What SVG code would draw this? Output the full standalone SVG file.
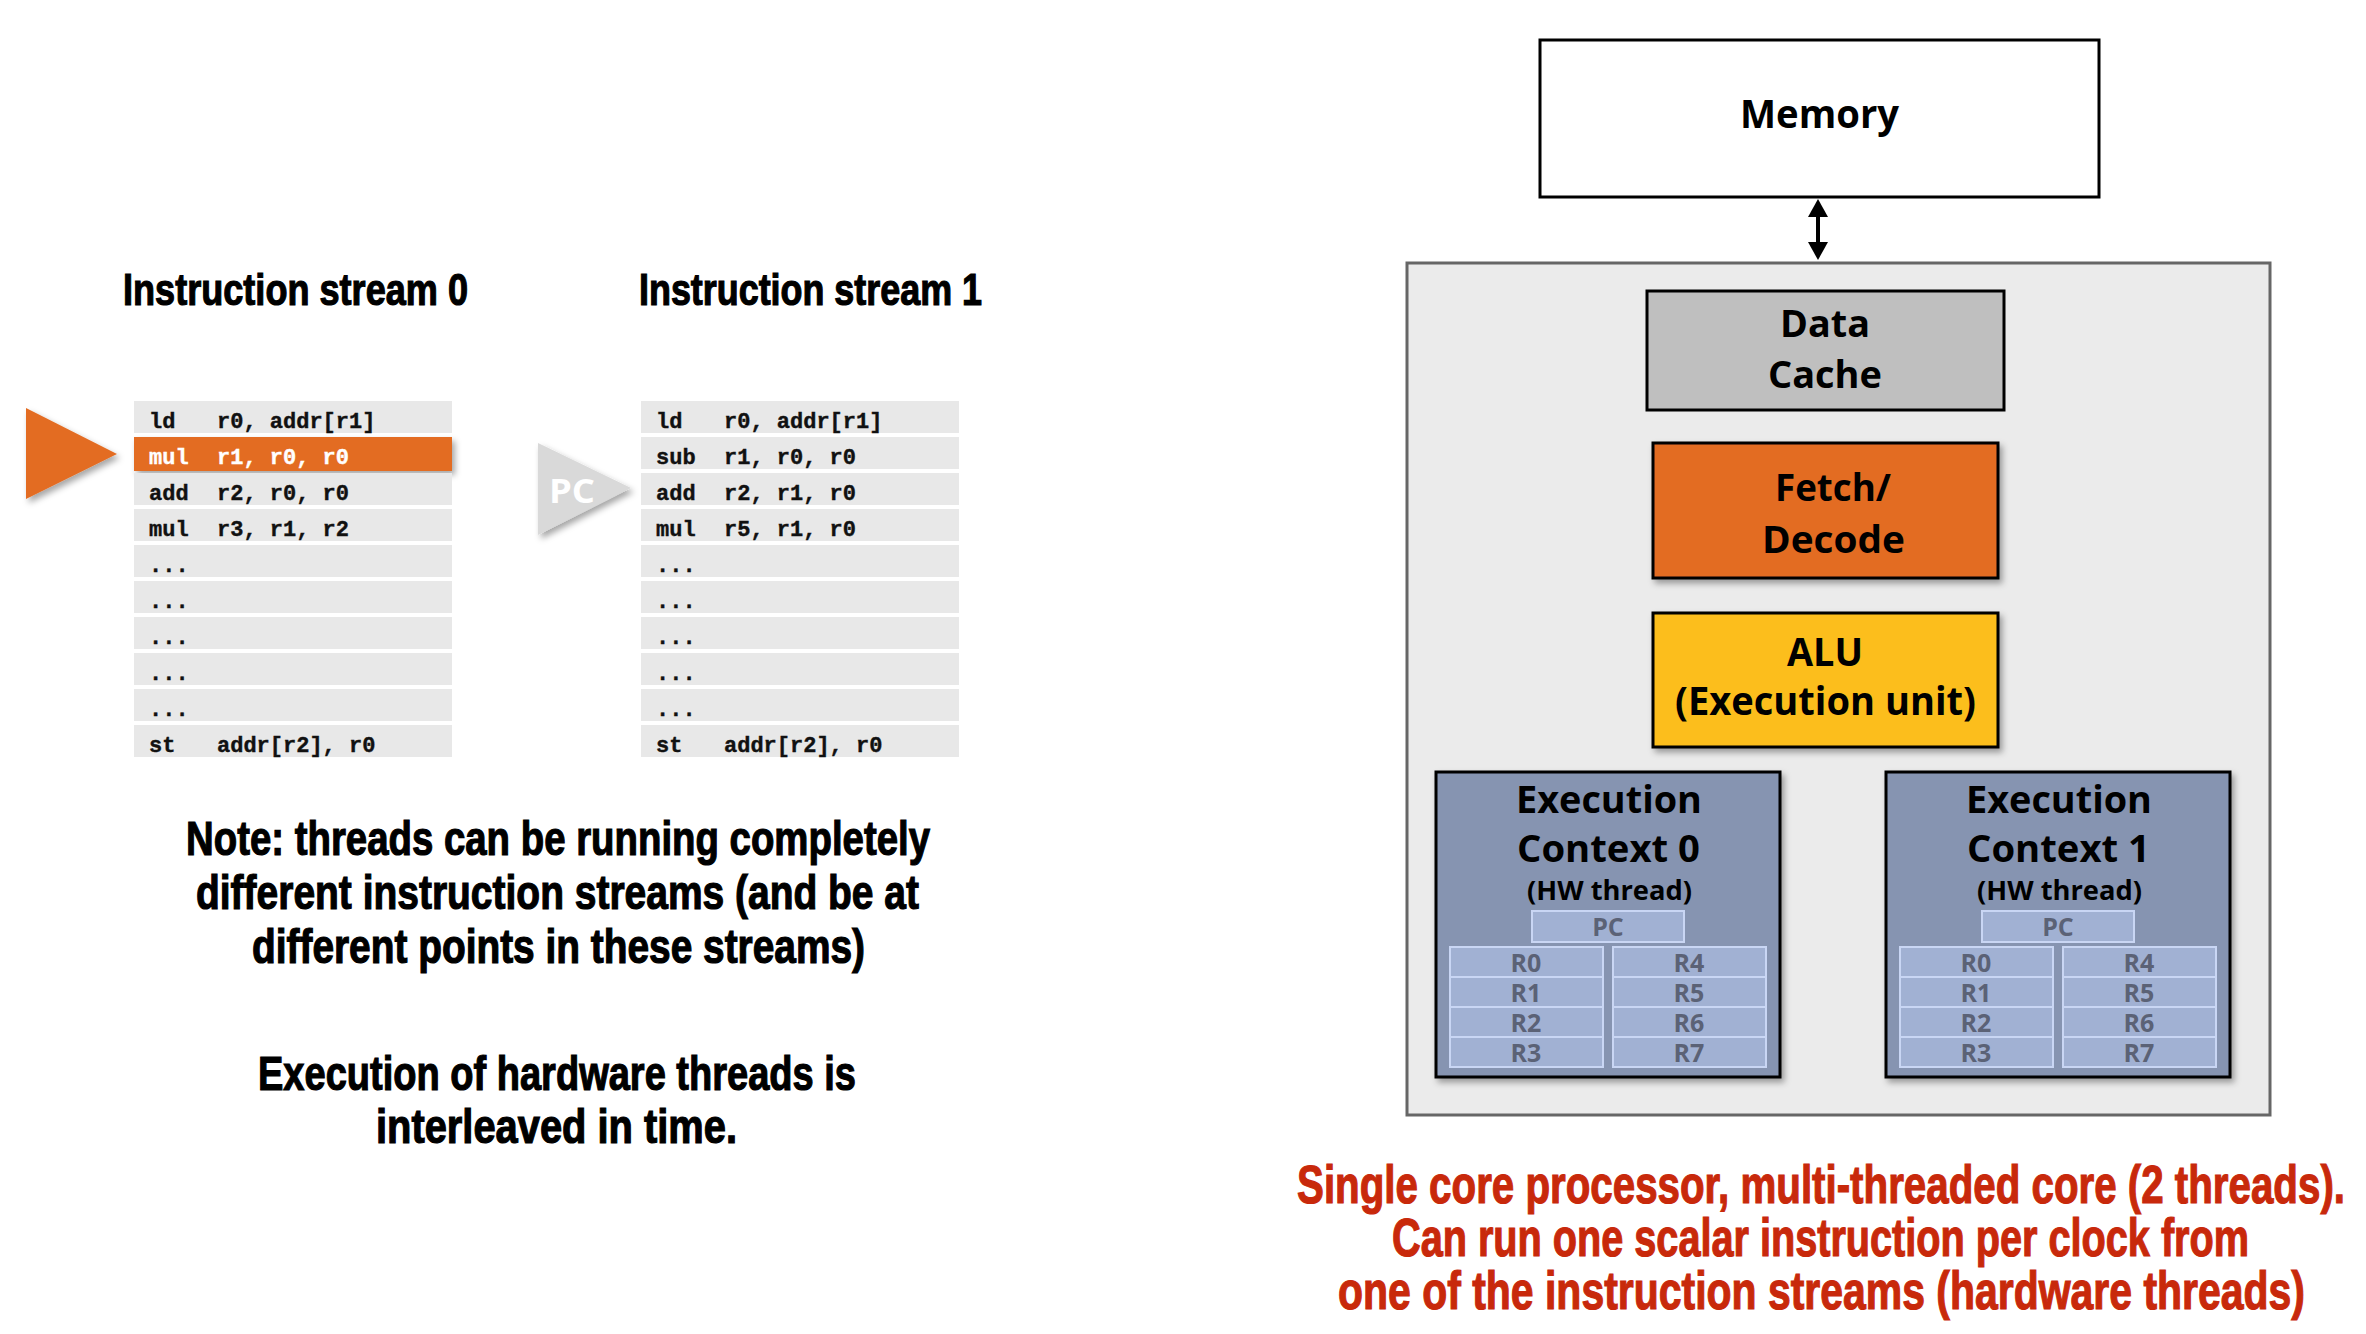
<svg xmlns="http://www.w3.org/2000/svg" width="2366" height="1334" viewBox="0 0 2366 1334">
<defs>
<filter id="sh" x="-10%" y="-10%" width="130%" height="140%">
<feDropShadow dx="3" dy="4" stdDeviation="3" flood-color="#000" flood-opacity="0.35"/>
</filter>
<marker id="ah" viewBox="0 0 18 20" refX="14" refY="10" markerWidth="18" markerHeight="20" markerUnits="userSpaceOnUse" orient="auto-start-reverse">
<path d="M0,0 L18,10 L0,20 z" fill="#000"/>
</marker>
</defs>
<style>
.cond{font-family:"Liberation Sans Narrow","Liberation Sans",Arial,sans-serif;font-weight:bold;}
.blk{fill:#000;stroke:#000;stroke-width:1.2px;}
.myr{font-family:"Open Sans","Liberation Sans",Arial,sans-serif;font-weight:bold;fill:#000;}
.mono{font-family:"Liberation Mono","DejaVu Sans Mono",monospace;font-weight:bold;font-size:22px;fill:#111;stroke:#111;stroke-width:0.4px;}
.monow{fill:#fff;stroke:#fff;}
.row{fill:#e8e8e8;}
.reg{fill:#a1b1d3;stroke:#c9d6f4;stroke-width:2;}
.regt{font-family:"Open Sans","Liberation Sans",Arial,sans-serif;font-weight:bold;font-size:25px;fill:#5b6276;text-anchor:middle;}
.ctx{fill:#8694b1;stroke:#000;stroke-width:3;}
.red{fill:#c8290b;stroke:#c8290b;stroke-width:1.2px;font-size:54px;}
.note{font-size:48px;}
</style>
<rect width="2366" height="1334" fill="#fff"/>

<g id="stream0">
<text class="cond blk" x="123" y="305" font-size="45" textLength="345" lengthAdjust="spacingAndGlyphs">Instruction stream 0</text>
<polygon id="pc0" points="26,408 117,454 26,499" fill="#e36c22" filter="url(#sh)"/>
<rect class="row" x="134" y="401" width="318" height="32"/>
<rect x="134" y="437" width="318" height="34" fill="#e36c22" filter="url(#sh)"/>
<rect class="row" x="134" y="473" width="318" height="32"/>
<rect class="row" x="134" y="509" width="318" height="32"/>
<rect class="row" x="134" y="545" width="318" height="32"/>
<rect class="row" x="134" y="581" width="318" height="32"/>
<rect class="row" x="134" y="617" width="318" height="32"/>
<rect class="row" x="134" y="653" width="318" height="32"/>
<rect class="row" x="134" y="689" width="318" height="32"/>
<rect class="row" x="134" y="725" width="318" height="32"/>
<text class="mono" x="149" y="428">ld</text><text class="mono" x="217" y="428">r0, addr[r1]</text>
<text class="mono monow" x="149" y="464">mul</text><text class="mono monow" x="217" y="464">r1, r0, r0</text>
<text class="mono" x="149" y="500">add</text><text class="mono" x="217" y="500">r2, r0, r0</text>
<text class="mono" x="149" y="536">mul</text><text class="mono" x="217" y="536">r3, r1, r2</text>
<text class="mono" x="149" y="572">...</text>
<text class="mono" x="149" y="608">...</text>
<text class="mono" x="149" y="644">...</text>
<text class="mono" x="149" y="680">...</text>
<text class="mono" x="149" y="716">...</text>
<text class="mono" x="149" y="752">st</text><text class="mono" x="217" y="752">addr[r2], r0</text>
</g>

<g id="stream1">
<text class="cond blk" x="639" y="305" font-size="45" textLength="343" lengthAdjust="spacingAndGlyphs">Instruction stream 1</text>
<polygon points="538,443 631,488 538,535" fill="#d9d9d9" filter="url(#sh)"/>
<text x="549" y="503" font-family="Open Sans, Liberation Sans, sans-serif" font-weight="bold" font-size="34" fill="#fff" textLength="46" lengthAdjust="spacingAndGlyphs">PC</text>
<rect class="row" x="641" y="401" width="318" height="32"/>
<rect class="row" x="641" y="437" width="318" height="32"/>
<rect class="row" x="641" y="473" width="318" height="32"/>
<rect class="row" x="641" y="509" width="318" height="32"/>
<rect class="row" x="641" y="545" width="318" height="32"/>
<rect class="row" x="641" y="581" width="318" height="32"/>
<rect class="row" x="641" y="617" width="318" height="32"/>
<rect class="row" x="641" y="653" width="318" height="32"/>
<rect class="row" x="641" y="689" width="318" height="32"/>
<rect class="row" x="641" y="725" width="318" height="32"/>
<text class="mono" x="656" y="428">ld</text><text class="mono" x="724" y="428">r0, addr[r1]</text>
<text class="mono" x="656" y="464">sub</text><text class="mono" x="724" y="464">r1, r0, r0</text>
<text class="mono" x="656" y="500">add</text><text class="mono" x="724" y="500">r2, r1, r0</text>
<text class="mono" x="656" y="536">mul</text><text class="mono" x="724" y="536">r5, r1, r0</text>
<text class="mono" x="656" y="572">...</text>
<text class="mono" x="656" y="608">...</text>
<text class="mono" x="656" y="644">...</text>
<text class="mono" x="656" y="680">...</text>
<text class="mono" x="656" y="716">...</text>
<text class="mono" x="656" y="752">st</text><text class="mono" x="724" y="752">addr[r2], r0</text>
</g>

<g id="notes" class="cond">
<text class="note blk" x="186" y="855" textLength="744" lengthAdjust="spacingAndGlyphs">Note: threads can be running completely</text>
<text class="note blk" x="196" y="909" textLength="723" lengthAdjust="spacingAndGlyphs">different instruction streams (and be at</text>
<text class="note blk" x="252" y="963" textLength="613" lengthAdjust="spacingAndGlyphs">different points in these streams)</text>
<text class="note blk" x="258" y="1090" textLength="598" lengthAdjust="spacingAndGlyphs">Execution of hardware threads is</text>
<text class="note blk" x="376" y="1143" textLength="361" lengthAdjust="spacingAndGlyphs">interleaved in time.</text>
</g>

<g id="memory">
<rect x="1540" y="40" width="559" height="157" fill="#fff" stroke="#000" stroke-width="3"/>
<text class="myr" x="1740" y="128" font-size="40" textLength="159" lengthAdjust="spacingAndGlyphs">Memory</text>
</g>

<g id="connectors">
<line x1="1818" y1="203" x2="1818" y2="256" stroke="#000" stroke-width="4" marker-start="url(#ah)" marker-end="url(#ah)"/>
</g>

<g id="core">
<rect x="1407" y="263" width="863" height="852" fill="#ebebeb" stroke="#666" stroke-width="3"/>
</g>

<g id="datacache">
<rect x="1647" y="291" width="357" height="119" fill="#bfbfbf" stroke="#000" stroke-width="3"/>
<text class="myr" x="1780" y="337" font-size="38" textLength="90" lengthAdjust="spacingAndGlyphs">Data</text>
<text class="myr" x="1768" y="388" font-size="38" textLength="114" lengthAdjust="spacingAndGlyphs">Cache</text>
</g>

<g id="fetch">
<rect x="1653" y="443" width="345" height="135" fill="#e36c24" stroke="#000" stroke-width="3" filter="url(#sh)"/>
<text class="myr" x="1775" y="501" font-size="38" textLength="116" lengthAdjust="spacingAndGlyphs">Fetch/</text>
<text class="myr" x="1762" y="553" font-size="38" textLength="143" lengthAdjust="spacingAndGlyphs">Decode</text>
</g>

<g id="alu">
<rect x="1653" y="613" width="345" height="134" fill="#fcbe1b" stroke="#000" stroke-width="3" filter="url(#sh)"/>
<text class="myr" x="1787" y="666" font-size="40" textLength="76" lengthAdjust="spacingAndGlyphs">ALU</text>
<text class="myr" x="1675" y="715" font-size="40" textLength="301" lengthAdjust="spacingAndGlyphs">(Execution unit)</text>
</g>

<g id="context0">
<rect class="ctx" x="1436" y="772" width="344" height="305" filter="url(#sh)"/>
<text class="myr" x="1516" y="813" font-size="37" textLength="186" lengthAdjust="spacingAndGlyphs">Execution</text>
<text class="myr" x="1517" y="862" font-size="37" textLength="183" lengthAdjust="spacingAndGlyphs">Context 0</text>
<text class="myr" x="1527" y="900" font-size="26" textLength="165" lengthAdjust="spacingAndGlyphs">(HW thread)</text>
<rect class="reg" x="1532" y="911" width="152" height="31"/>
<text class="regt" x="1608" y="936" font-size="27">PC</text>
<rect class="reg" x="1450" y="947" width="153" height="30"/>
<rect class="reg" x="1450" y="977" width="153" height="30"/>
<rect class="reg" x="1450" y="1007" width="153" height="30"/>
<rect class="reg" x="1450" y="1037" width="153" height="30"/>
<rect class="reg" x="1613" y="947" width="153" height="30"/>
<rect class="reg" x="1613" y="977" width="153" height="30"/>
<rect class="reg" x="1613" y="1007" width="153" height="30"/>
<rect class="reg" x="1613" y="1037" width="153" height="30"/>
<text class="regt" x="1526" y="972">R0</text>
<text class="regt" x="1526" y="1002">R1</text>
<text class="regt" x="1526" y="1032">R2</text>
<text class="regt" x="1526" y="1062">R3</text>
<text class="regt" x="1689" y="972">R4</text>
<text class="regt" x="1689" y="1002">R5</text>
<text class="regt" x="1689" y="1032">R6</text>
<text class="regt" x="1689" y="1062">R7</text>
</g>

<g id="context1">
<rect class="ctx" x="1886" y="772" width="344" height="305" filter="url(#sh)"/>
<text class="myr" x="1966" y="813" font-size="37" textLength="186" lengthAdjust="spacingAndGlyphs">Execution</text>
<text class="myr" x="1967" y="862" font-size="37" textLength="183" lengthAdjust="spacingAndGlyphs">Context 1</text>
<text class="myr" x="1977" y="900" font-size="26" textLength="165" lengthAdjust="spacingAndGlyphs">(HW thread)</text>
<rect class="reg" x="1982" y="911" width="152" height="31"/>
<text class="regt" x="2058" y="936" font-size="27">PC</text>
<rect class="reg" x="1900" y="947" width="153" height="30"/>
<rect class="reg" x="1900" y="977" width="153" height="30"/>
<rect class="reg" x="1900" y="1007" width="153" height="30"/>
<rect class="reg" x="1900" y="1037" width="153" height="30"/>
<rect class="reg" x="2063" y="947" width="153" height="30"/>
<rect class="reg" x="2063" y="977" width="153" height="30"/>
<rect class="reg" x="2063" y="1007" width="153" height="30"/>
<rect class="reg" x="2063" y="1037" width="153" height="30"/>
<text class="regt" x="1976" y="972">R0</text>
<text class="regt" x="1976" y="1002">R1</text>
<text class="regt" x="1976" y="1032">R2</text>
<text class="regt" x="1976" y="1062">R3</text>
<text class="regt" x="2139" y="972">R4</text>
<text class="regt" x="2139" y="1002">R5</text>
<text class="regt" x="2139" y="1032">R6</text>
<text class="regt" x="2139" y="1062">R7</text>
</g>

<g id="caption" class="cond">
<text class="red" x="1297" y="1203" textLength="1048" lengthAdjust="spacingAndGlyphs">Single core processor, multi-threaded core (2 threads).</text>
<text class="red" x="1392" y="1256" textLength="857" lengthAdjust="spacingAndGlyphs">Can run one scalar instruction per clock from</text>
<text class="red" x="1338" y="1309" textLength="967" lengthAdjust="spacingAndGlyphs">one of the instruction streams (hardware threads)</text>
</g>
</svg>
